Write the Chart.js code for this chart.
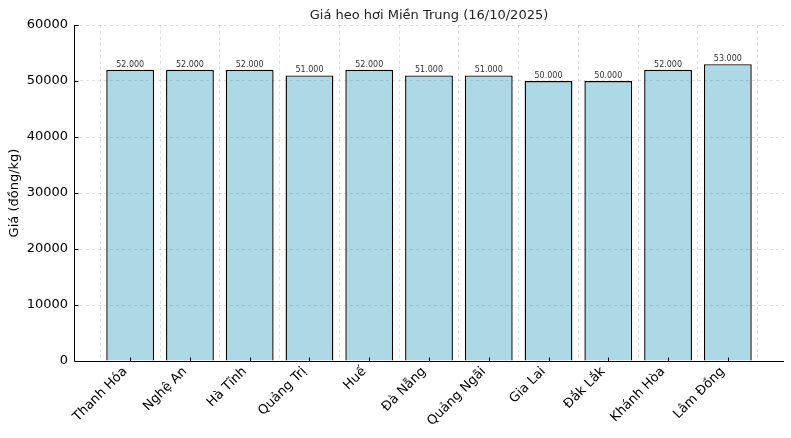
<!DOCTYPE html>
<html>
<head>
<meta charset="utf-8">
<script src="https://cdn.jsdelivr.net/npm/chart.js@4/dist/chart.umd.min.js"></script>
<style>
  html, body { margin: 0; padding: 0; background: #fff; }
  #wrap { width: 791px; height: 438px; }
</style>
</head>
<body>
<div id="wrap"><canvas id="chart"></canvas></div>
<script>
const provinces = ['Thanh Hóa', 'Nghệ An', 'Hà Tĩnh', 'Quảng Trị', 'Huế', 'Đà Nẵng',
  'Quảng Ngãi', 'Gia Lai', 'Đắk Lắk', 'Khánh Hòa', 'Lâm Đồng'];
const prices = [52000, 52000, 52000, 51000, 52000, 51000, 51000, 50000, 50000, 52000, 53000];
const yTicks = [0, 10000, 20000, 30000, 40000, 50000, 60000];
const chartTitle = 'Giá heo hơi Miền Trung (16/10/2025)';

const FONT = 'DejaVu Sans';

// tiêu đề căn giữa vùng biểu đồ
const axesTitle = {
  id: 'axesTitle',
  afterDraw(chart) {
    const ctx = chart.ctx;
    const area = chart.chartArea;
    ctx.save();
    ctx.font = '13px "' + FONT + '"';
    ctx.fillStyle = '#222';
    ctx.textAlign = 'center';
    ctx.textBaseline = 'alphabetic';
    ctx.fillText(chartTitle, (area.left + area.right) / 2, area.top - 6);
    ctx.restore();
  }
};

// nhãn giá trị trên mỗi cột
const valueLabels = {
  id: 'valueLabels',
  afterDatasetsDraw(chart) {
    const ctx = chart.ctx;
    const meta = chart.getDatasetMeta(0);
    ctx.save();
    ctx.font = '8px "' + FONT + '"';
    ctx.fillStyle = '#333';
    ctx.textAlign = 'center';
    ctx.textBaseline = 'bottom';
    meta.data.forEach((bar, i) => {
      const txt = prices[i].toLocaleString('de-DE');
      ctx.fillText(txt, bar.x, bar.y - 1);
    });
    ctx.restore();
  }
};

// trục trái/dưới và vạch chia hướng vào trong
const spinesAndTicks = {
  id: 'spinesAndTicks',
  afterDraw(chart) {
    const ctx = chart.ctx;
    const { x, y } = chart.scales;
    const area = chart.chartArea;
    const l = Math.round(area.left) + 0.5;
    const b = Math.round(area.bottom) + 0.5;
    ctx.save();
    ctx.strokeStyle = '#000';
    ctx.lineWidth = 1;
    ctx.beginPath();
    ctx.moveTo(l, Math.round(area.top));
    ctx.lineTo(l, b);
    ctx.lineTo(Math.round(area.right), b);
    yTicks.forEach(v => {
      const py = Math.round(y.getPixelForValue(v)) + 0.5;
      ctx.moveTo(l, py);
      ctx.lineTo(l + 4, py);
    });
    provinces.forEach((p, i) => {
      const px = Math.round(x.getPixelForValue(i)) + 0.5;
      ctx.moveTo(px, b);
      ctx.lineTo(px, b - 4);
    });
    ctx.stroke();
    ctx.restore();
  }
};

new Chart(document.getElementById('chart'), {
  type: 'bar',
  data: {
    datasets: [{
      data: prices.map((v, i) => ({ x: i, y: v })),
      backgroundColor: '#ADD8E6',
      borderColor: '#000',
      borderWidth: 1.4,
      barPercentage: 0.8,
      categoryPercentage: 1.0
    }]
  },
  options: {
    responsive: true,
    maintainAspectRatio: false,
    animation: false,
    layout: { padding: { left: 0, right: 7, top: 25, bottom: 0 } },
    plugins: {
      legend: { display: false },
      tooltip: { enabled: false },
      title: { display: false }
    },
    scales: {
      x: {
        type: 'linear',
        min: -0.94,
        max: 10.94,
        offset: false,
        afterBuildTicks(scale) {
          scale.ticks = provinces.map((p, i) => ({ value: i }));
        },
        afterFit(scale) { scale.height = 77; },
        ticks: {
          autoSkip: false,
          minRotation: 45,
          maxRotation: 45,
          color: '#000',
          padding: 3,
          labelOffset: -5,
          font: { family: FONT, size: 13 },
          callback: (v) => provinces[v]
        },
        grid: {
          z: 1,
          color: 'rgba(0,0,0,0.15)',
          lineWidth: 0.8,
          drawTicks: false
        },
        border: { display: false, dash: [3, 3] }
      },
      y: {
        min: 0,
        max: 60000,
        afterBuildTicks(scale) {
          scale.ticks = yTicks.map(v => ({ value: v }));
        },
        afterFit(scale) { scale.width = 74; },
        ticks: {
          color: '#000',
          padding: 6,
          font: { family: FONT, size: 13 },
          callback: (v) => String(v)
        },
        grid: {
          z: 1,
          color: 'rgba(0,0,0,0.15)',
          lineWidth: 0.8,
          drawTicks: false
        },
        border: { display: false, dash: [3, 3] },
        title: {
          display: true,
          text: 'Giá (đồng/kg)',
          color: '#000',
          font: { family: FONT, size: 13 },
          padding: { top: 7, bottom: 4 }
        }
      }
    }
  },
  plugins: [axesTitle, valueLabels, spinesAndTicks]
});
</script>
</body>
</html>
